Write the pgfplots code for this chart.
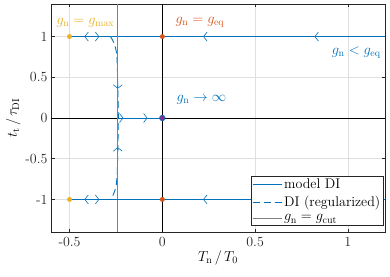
\documentclass[border=0pt]{standalone}
\usepackage{pgfplots}
\pgfplotsset{compat=1.18}
\usetikzlibrary{arrows.meta}
\definecolor{mblue}{HTML}{0072BD}
\definecolor{morange}{HTML}{D95319}
\definecolor{myellow}{HTML}{EDB120}
\definecolor{mpurple}{HTML}{7E2F8E}
\definecolor{axgray}{HTML}{262626}
\definecolor{gridc}{HTML}{DFDFDF}
\newcommand{\bigf}{\fontsize{14}{16}\selectfont}
\begin{document}
\begin{tikzpicture}
\begin{axis}[name=ax,
  scale only axis, width=334pt, height=228pt,
  xmin=-0.6, xmax=1.2, ymin=-1.4, ymax=1.4,
  xtick={-0.5,0,0.5,1}, ytick={-1,-0.5,0,0.5,1},
  /pgf/number format/assume math mode=true,
  tick align=inside, tick pos=both,
  major tick length=3.5pt,
  axis line style={axgray, line width=0.6pt},
  tick style={axgray, line width=0.6pt},
  grid=major, major grid style={gridc, line width=0.5pt},
  ticklabel style={font=\bigf, text=axgray},
  xticklabel style={yshift=-2pt},
  label style={font=\bigf},
  xlabel={$T_\mathrm{n}\,/\,T_0$}, ylabel={$t_\mathrm{t}\,/\,\tau_\mathrm{DI}$},
  xlabel style={yshift=3pt}, ylabel style={yshift=-2pt},
  legend style={at={(rel axis cs:0.994,0.03)}, anchor=south east, draw=axgray, font=\bigf, inner sep=0.5pt, row sep=2.5pt},
  legend image code/.code={\draw[#1] (0pt,0pt) -- (29pt,0pt);},
  legend cell align=left,
  clip=false,
]
\addlegendimage{draw=mblue, line width=1pt, solid}
\addlegendentry{model DI}
\addlegendimage{draw=mblue, line width=1pt, dash pattern=on 7pt off 4pt}
\addlegendentry{DI (regularized)}
\addlegendimage{draw=gray, line width=0.8pt, solid}
\addlegendentry{$g_\mathrm{n}=g_\mathrm{cut}$}
% axes lines through origin
\addplot[black, line width=0.9pt, forget plot] coordinates {(0,-1.4) (0,1.4)};
\addplot[black, line width=0.9pt, forget plot] coordinates {(-0.6,0) (1.2,0)};
% model DI
\addplot[mblue, line width=0.9pt, forget plot] coordinates {(-0.5,1) (1.2,1)};
\addplot[mblue, line width=0.9pt, dash pattern=on 7pt off 4pt, forget plot] coordinates {
(-0.280,1) (-0.274,0.98) (-0.2665,0.95) (-0.257,0.9) (-0.251,0.85) (-0.247,0.8) (-0.2435,0.7) (-0.241,0.5) (-0.239,0.3) (-0.237,0)
(-0.239,-0.3) (-0.241,-0.5) (-0.2435,-0.7) (-0.247,-0.8) (-0.251,-0.85) (-0.257,-0.9) (-0.2665,-0.95) (-0.274,-0.98) (-0.280,-1)};
\addplot[gray, line width=0.7pt, forget plot] coordinates {(-0.241,-1.4) (-0.241,1.4)};
\addplot[mblue, line width=0.9pt, forget plot] coordinates {(-0.5,-1) (1.2,-1)};
\addplot[mblue, line width=0.9pt, forget plot] coordinates {(-0.237,0) (0,0)};
% arrows
\pgfplotsset{arr/.style={mblue, line width=0.6pt, -{Straight Barb[length=3.5pt, width=9pt]}, forget plot}}
\addplot[arr] coordinates {(-0.41,1) (-0.42,1)};
\addplot[arr] coordinates {(-0.35,1) (-0.34,1)};
\addplot[arr] coordinates {(0.23,1) (0.22,1)};
\addplot[arr] coordinates {(0.83,1) (0.82,1)};
\addplot[arr] coordinates {(-0.41,-1) (-0.42,-1)};
\addplot[arr] coordinates {(-0.35,-1) (-0.34,-1)};
\addplot[arr] coordinates {(0.23,-1) (0.22,-1)};
\addplot[arr] coordinates {(0.83,-1) (0.82,-1)};
\addplot[arr] coordinates {(-0.22,0) (-0.21,0)};
\addplot[arr] coordinates {(-0.09,0) (-0.08,0)};
\addplot[arr] coordinates {(-0.2404,0.39) (-0.2406,0.36)};
\addplot[arr] coordinates {(-0.2404,-0.39) (-0.2406,-0.36)};
% points
\addplot[only marks, mark=*, mark size=2.2pt, color=myellow, forget plot] coordinates {(-0.5,1) (-0.5,-1)};
\addplot[only marks, mark=*, mark size=2.2pt, color=morange, forget plot] coordinates {(0,1) (0,-1)};
\addplot[only marks, mark=*, mark size=2.8pt, mark options={fill=mpurple, draw=mblue, line width=0.6pt}, forget plot] coordinates {(0,0)};
% texts
\node[myellow, anchor=west, inner sep=0pt, font=\bigf] at (axis cs:-0.571,1.17) {$g_\mathrm{n}=g_\mathrm{max}$};
\node[morange, anchor=west, inner sep=0pt, font=\bigf] at (axis cs:0.07,1.17) {$g_\mathrm{n}=g_\mathrm{eq}$};
\node[mblue, anchor=west, inner sep=0pt, font=\bigf] at (axis cs:0.913,0.8) {$g_\mathrm{n}<g_\mathrm{eq}$};
\node[mblue, anchor=west, inner sep=0pt, font=\bigf] at (axis cs:0.076,0.22) {$g_\mathrm{n}\to\infty$};
\end{axis}
\pgfresetboundingbox
\path[use as bounding box] ([shift={(-51pt,-44pt)}]ax.south west) rectangle ([shift={(5pt,4pt)}]ax.north east);
\end{tikzpicture}
\end{document}
